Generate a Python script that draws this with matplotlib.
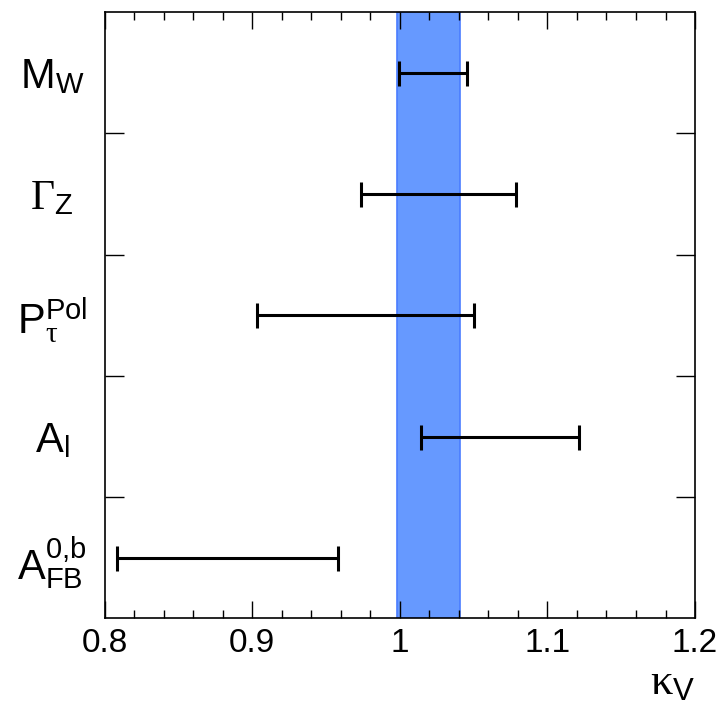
import matplotlib
matplotlib.use("Agg")
import matplotlib.pyplot as plt
import numpy as np
from matplotlib.ticker import MultipleLocator, FixedLocator

plt.rcParams['font.family'] = ['Liberation Sans', 'DejaVu Sans']
plt.rcParams['mathtext.fontset'] = 'custom'
plt.rcParams['mathtext.rm'] = 'Liberation Serif'
plt.rcParams['mathtext.it'] = 'Liberation Serif'
plt.rcParams['mathtext.sf'] = 'Liberation Sans'

# Data
labels = [r'$\mathsf{M}_{\mathsf{W}}$',
          r'$\Gamma_{\mathsf{Z}}$',
          r'$\mathsf{P}_{\tau}^{\mathsf{Pol}}$',
          r'$\mathsf{A}_{\mathsf{l}}$',
          r'$\mathsf{A}_{\mathsf{FB}}^{\mathsf{0{,}b}}$']
lows = [0.9992, 0.9737, 0.9033, 1.0146, 0.8082]
highs = [1.0455, 1.0789, 1.0501, 1.1216, 0.9581]
band_low = 0.998
band_high = 1.041
xlim = (0.8, 1.2)
xticks = [0.8, 0.9, 1.0, 1.1, 1.2]
xticklabels = ['0.8', '0.9', '1', '1.1', '1.2']

fig = plt.figure(figsize=(7.18, 7.10), dpi=100)
ax = fig.add_axes([0.1457, 0.129, 0.8223, 0.854])

n = len(labels)
ypos = np.arange(n)[::-1].astype(float)  # top row first
lows_a = np.array(lows)
highs_a = np.array(highs)
centers = (lows_a + highs_a) / 2
halfw = (highs_a - lows_a) / 2

ax.axvspan(band_low, band_high, facecolor='#6699ff', edgecolor='#4a7dff', linewidth=1.2, zorder=1)

ax.errorbar(centers, ypos, xerr=halfw, fmt='none', ecolor='black',
            elinewidth=2.2, capsize=9, capthick=2.2, zorder=3)

ax.set_xlim(*xlim)
ax.set_ylim(-0.5, n - 0.5)

ax.set_xticks(xticks)
ax.set_xticklabels(xticklabels, fontsize=24)
ax.xaxis.set_minor_locator(MultipleLocator(0.02))
ax.tick_params(axis='x', which='major', direction='in', length=12, width=1, top=True, bottom=True, pad=7)
ax.tick_params(axis='x', which='minor', direction='in', length=6, width=1, top=True, bottom=True)

ax.set_yticks(ypos)
ax.set_yticklabels(labels, fontsize=30)
ax.yaxis.set_minor_locator(FixedLocator(np.arange(0.5, n - 1, 1.0)))
ax.tick_params(axis='y', which='major', length=0, pad=38)
ax.tick_params(axis='y', which='minor', direction='in', length=13.7, width=1, left=True, right=True)
for lab in ax.get_yticklabels():
    lab.set_ha('center')

for sp in ax.spines.values():
    sp.set_linewidth(1.2)

ax.set_xlabel(r'$\kappa_{\mathsf{V}}$', fontsize=32, loc='right', labelpad=2)

fig.savefig('out.png', dpi=100)
